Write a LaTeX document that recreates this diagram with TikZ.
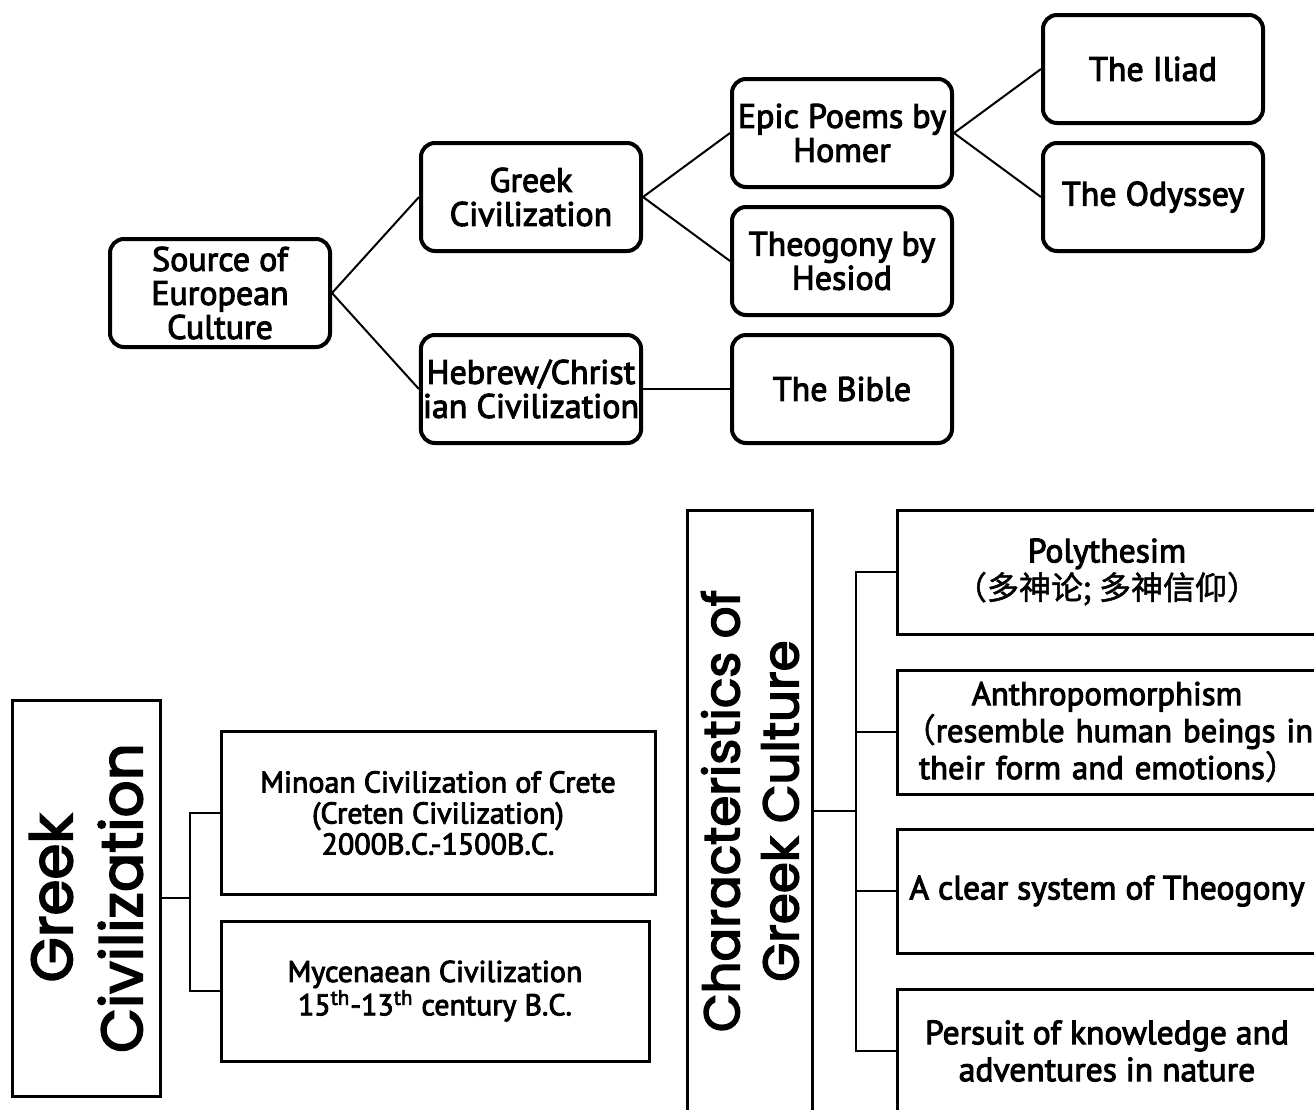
\documentclass[tikz,border=0pt]{standalone}
\usepackage{fontspec}
\setmainfont{PT Sans}[FakeBold=3]
\newfontfamily\titlefont{Poppins}[FakeBold=3]
\newfontfamily\cjk{Noto Sans CJK SC}[FakeBold=1.5]
\begin{document}
\begin{tikzpicture}[x=0.5pt, y=-0.5pt,
    rbox/.style={draw, line width=2pt, rounded corners=7pt, minimum width=110pt, minimum height=54pt,
        inner sep=1pt, align=center, font=\fontsize{17}{17}\selectfont},
    sbox/.style={draw, line width=1.5pt, inner sep=1pt, align=center},
    ttl/.style={sbox, rotate=90},
    link/.style={line width=1pt}]
    \useasboundingbox (0,0) rectangle (1314,1110);

    % Source tree
    \node[rbox] (src) at (220,293) {Source of\\European\\Culture};
    \node[rbox] (grk) at (531,197) {Greek\\Civilization};
    \node[rbox] (heb) at (531,389) {Hebrew/Christ\\ian Civilization};
    \node[rbox] (epic) at (842,133) {Epic Poems by\\Homer};
    \node[rbox] (theo) at (842,261) {Theogony by\\Hesiod};
    \node[rbox] (bible) at (842,389) {The Bible};
    \node[rbox] (iliad) at (1153,69) {The Iliad};
    \node[rbox] (odys) at (1153,197) {The Odyssey};
    \foreach \a/\b in {src/grk, src/heb, grk/epic, grk/theo, heb/bible, epic/iliad, epic/odys}
        \draw[link] (\a.east) -- (\b.west);

    % Greek Civilization
    \node[ttl, minimum width=198pt, minimum height=74pt,
        font=\titlefont\fontsize{29}{35}\selectfont] (gc) at (86,898) {Greek\\Civilization};
    \node[sbox, minimum width=217pt, minimum height=81.5pt, font=\fontsize{15}{15.5}\selectfont] (mino) at (438,813)
        {Minoan Civilization of Crete\\(Creten Civilization)\\2000B.C.-1500B.C.};
    \node[sbox, minimum width=214pt, minimum height=70pt, font=\fontsize{15}{15.5}\selectfont] (myc) at (435,991)
        {Mycenaean Civilization\\15\textsuperscript{th}-13\textsuperscript{th} century B.C.};
    \coordinate (gbus) at (190,898);
    \draw[link] (gc.south) -- (gbus);
    \draw[link] (mino.west) -| (gbus) |- (myc.west);

    % Characteristics of Greek Culture
    \node[ttl, minimum width=301pt, minimum height=62.5pt,
        font=\titlefont\fontsize{25}{29.5}\selectfont] (chr) at (750,811) {Characteristics of\\Greek Culture};
    \tikzset{cbox/.style={sbox, minimum width=210pt, minimum height=62pt, font=\fontsize{16.8}{18.5}\selectfont}}
    \node[cbox] (poly) at (1107,572) {Polythesim\\{\cjk\fontsize{16}{16}\selectfont （多神论; 多神信仰）}};
    \node[cbox, text width=188pt, align=left, font=\fontsize{16.4}{18.5}\selectfont] (anth) at (1107,732)
        {\makebox[188pt]{Anthropomorphism}\\\mbox{\kern-8pt{\cjk （}resemble human beings in}\\\mbox{their form and emotions{\cjk ）}}};
    \node[cbox] (clear) at (1107,891) {A clear system of Theogony};
    \node[cbox] (pers) at (1107,1051) {Persuit of knowledge and\\adventures in nature};
    \coordinate (cbus) at (856,811);
    \draw[link] (chr.south) -- (cbus);
    \draw[link] (poly.west) -| (cbus) |- (pers.west);
    \foreach \n in {anth, clear}
        \draw[link] (\n.west) -- (\n.west -| cbus);
\end{tikzpicture}
\end{document}
